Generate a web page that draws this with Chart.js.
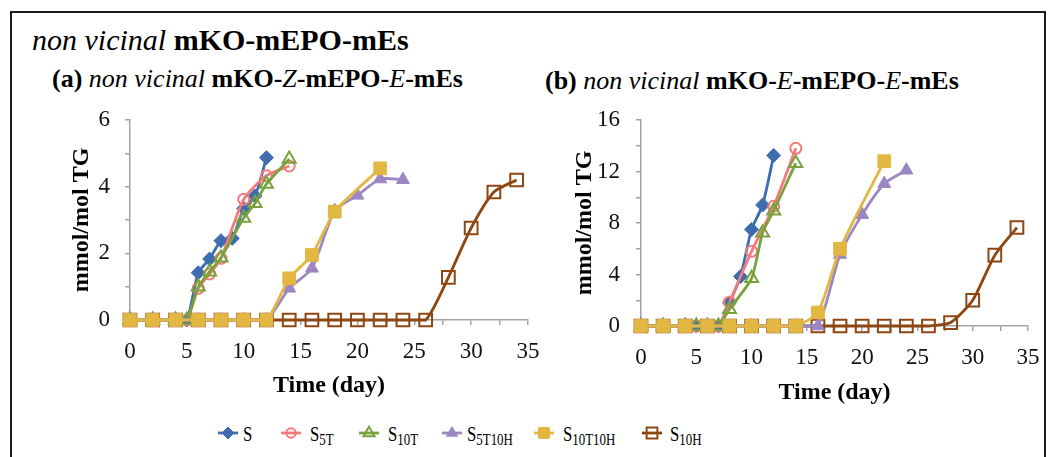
<!DOCTYPE html>
<html>
<head>
<meta charset="utf-8">
<script src="https://cdn.jsdelivr.net/npm/chart.js@4.4.1/dist/chart.umd.min.js"></script>
<style>
  html, body { margin: 0; padding: 0; }
  body { width: 1048px; height: 457px; background: #fff; position: relative; overflow: hidden;
         font-family: "Liberation Serif", "DejaVu Serif", serif; color: #000; }
  #frame { position: absolute; left: 10px; top: 11px; width: 1036px; height: 470px;
           border: 2px solid #1c1c1c; box-sizing: border-box; }
  .txt { position: absolute; white-space: nowrap; line-height: 1; }
  .it { font-style: italic; font-weight: normal; }
  .bd { font-weight: bold; }
  #mainTitle { left: 32px; top: 25px; font-size: 30px; }
  #subA { left: 52px; top: 66px; font-size: 26px; }
  #subB { left: 545px; top: 68px; font-size: 26px; }
  .chartBox { position: absolute; }
  #boxA { left: 40px; top: 100px; width: 500px; height: 310px; }
  #boxB { left: 550px; top: 100px; width: 490px; height: 310px; }
  .leg { position: absolute; top: 423px; font-size: 22px; line-height: 1; white-space: nowrap;
         transform: scaleX(0.76); transform-origin: 0 0; }
  .leg .sub { font-size: 17px; position: relative; top: 4px; }
  .legSym { position: absolute; top: 424px; }
</style>
</head>
<body>
<div id="frame"></div>
<div class="txt" id="mainTitle"><span class="it">non vicinal</span> <span class="bd">mKO-mEPO-mEs</span></div>
<div class="txt" id="subA"><span class="bd">(a)</span> <span class="it">non vicinal</span> <span class="bd">mKO-</span><span class="it">Z</span><span class="bd">-mEPO-</span><span class="it">E</span><span class="bd">-mEs</span></div>
<div class="txt" id="subB"><span class="bd">(b)</span> <span class="it">non vicinal</span> <span class="bd">mKO-</span><span class="it">E</span><span class="bd">-mEPO-</span><span class="it">E</span><span class="bd">-mEs</span></div>

<div class="chartBox" id="boxA"><canvas id="chartA" width="500" height="310"></canvas></div>
<div class="chartBox" id="boxB"><canvas id="chartB" width="490" height="310"></canvas></div>
<div id="legend"></div>

<script>
// ---- Panel (a): non vicinal mKO-Z-mEPO-E-mEs ----
const aDaysS       = [0, 2, 4, 5, 6, 7, 8, 9, 10, 11, 12];
const aValsS       = [0, 0, 0, 0, 1.42, 1.83, 2.38, 2.45, 3.35, 3.72, 4.87];
const aDaysS5T     = [0, 2, 4, 5, 6, 7, 8, 10, 12, 14];
const aValsS5T     = [0, 0, 0, 0, 0.95, 1.38, 1.85, 3.62, 4.33, 4.62];
const aDaysS10T    = [0, 2, 4, 5, 6, 7, 8, 10, 11, 12, 14];
const aValsS10T    = [0, 0, 0, 0, 1.0, 1.45, 1.87, 3.06, 3.5, 4.08, 4.83];
const aDaysS5T10H  = [0, 2, 4, 6, 8, 10, 12, 14, 16, 18, 20, 22, 24];
const aValsS5T10H  = [0, 0, 0, 0, 0, 0, 0, 0.95, 1.55, 3.28, 3.74, 4.23, 4.21];
const aDaysS10T10H = [0, 2, 4, 6, 8, 10, 12, 14, 16, 18, 22];
const aValsS10T10H = [0, 0, 0, 0, 0, 0, 0, 1.25, 1.95, 3.25, 4.55];
const aDaysS10H    = [0, 2, 4, 6, 8, 10, 12, 14, 16, 18, 20, 22, 24, 26, 28, 30, 32, 34];
const aValsS10H    = [0, 0, 0, 0, 0, 0, 0, 0, 0, 0, 0, 0, 0, 0, 1.28, 2.76, 3.84, 4.2];

// ---- Panel (b): non vicinal mKO-E-mEPO-E-mEs ----
const bDaysS       = [0, 2, 4, 5, 6, 7, 8, 9, 10, 11, 12];
const bValsS       = [0, 0, 0, 0, 0, 0, 1.8, 3.85, 7.5, 9.4, 13.25];
const bDaysS5T     = [0, 2, 4, 5, 6, 7, 8, 10, 12, 14];
const bValsS5T     = [0, 0, 0, 0, 0, 0, 1.85, 5.8, 9.3, 13.8];
const bDaysS10T    = [0, 2, 4, 5, 6, 7, 8, 10, 11, 12, 14];
const bValsS10T    = [0, 0, 0, 0, 0, 0, 1.3, 3.7, 7.25, 8.95, 12.65];
const bDaysS5T10H  = [0, 2, 4, 6, 8, 10, 12, 14, 16, 18, 20, 22, 24];
const bValsS5T10H  = [0, 0, 0, 0, 0, 0, 0, 0, 0, 5.55, 8.65, 11.05, 12.1];
const bDaysS10T10H = [0, 2, 4, 6, 8, 10, 12, 14, 16, 18, 22];
const bValsS10T10H = [0, 0, 0, 0, 0, 0, 0, 0, 1.05, 6.0, 12.8];
const bDaysS10H    = [0, 2, 4, 6, 8, 10, 12, 14, 16, 18, 20, 22, 24, 26, 28, 30, 32, 34];
const bValsS10H    = [0, 0, 0, 0, 0, 0, 0, 0, 0, 0, 0, 0, 0, 0, 0.27, 2.0, 5.5, 7.65];

// Axis ticks
const xTickLabels = ['0', '5', '10', '15', '20', '25', '30', '35'];
const aYTickLabels = ['0', '2', '4', '6'];
const bYTickLabels = ['0', '4', '8', '12', '16'];

// Series labels (legend)
const seriesNames = ['S', 'S5T', 'S10T', 'S5T10H', 'S10T10H', 'S10H'];

// Series appearance, same order as seriesNames
const styles = [
  { color: '#3E6DAF', point: 'rectRot',  radius: 7,   fill: true,  order: 4 },
  { color: '#F47A7C', point: 'circle',   radius: 5.5, fill: false, order: 3 },
  { color: '#7AA23C', point: 'triangle', radius: 7.5, fill: false, order: 2 },
  { color: '#9C87C2', point: 'triangle', radius: 7.5, fill: true,  order: 1 },
  { color: '#E2B842', point: 'rect',     radius: 9,   fill: true,  order: 0 },
  { color: '#8E4612', point: 'rect',     radius: 9,   fill: false, order: 5 }
];

function toPoints(days, vals) {
  return days.map((d, i) => ({ x: d, y: vals[i] }));
}

function buildDatasets(series) {
  return series.map((s, i) => {
    const st = styles[i];
    return {
      label: seriesNames[i],
      data: toPoints(s[0], s[1]),
      borderColor: st.color,
      backgroundColor: st.color,
      borderWidth: 2.8,
      tension: 0.22,
      pointStyle: st.point,
      pointRadius: st.radius,
      pointBackgroundColor: st.fill ? st.color : 'rgba(0,0,0,0)',
      pointBorderColor: st.color,
      pointBorderWidth: st.fill ? 1 : 2,
      order: st.order,
      clip: false
    };
  });
}

const axisGray = '#A3A3A3';
const tickFont = { family: '"Liberation Serif", serif', size: 23 };
const titleFont = { family: '"Liberation Serif", serif', size: 24, weight: 'bold' };

function makeChart(canvasId, datasets, cfg) {
  return new Chart(document.getElementById(canvasId), {
    type: 'line',
    data: { datasets },
    options: {
      responsive: false,
      animation: false,
      events: [],
      layout: { padding: { left: 10, right: cfg.padRight, top: cfg.padTop, bottom: 0 } },
      plugins: { legend: { display: false }, tooltip: { enabled: false } },
      scales: {
        x: {
          type: 'linear', min: 0, max: 35,
          // fixed axis band; the plot area edges come from layout padding alone
          afterFit: s => { s.height = cfg.xHeight; s.paddingLeft = 0; s.paddingRight = 0; },
          border: { display: true, color: axisGray, width: 1.5 },
          grid: { display: true, drawOnChartArea: false, drawTicks: true, tickLength: 5, color: axisGray, lineWidth: 1.5 },
          ticks: {
            stepSize: 2.5, autoSkip: false, maxRotation: 0, padding: cfg.xTickPad,
            color: '#111', font: tickFont,
            callback: v => { const t = String(v); return xTickLabels.includes(t) ? t : ''; }
          },
          title: { display: true, text: 'Time (day)', color: '#000', font: titleFont,
                   padding: { top: 0, bottom: cfg.xTitlePad } }
        },
        y: {
          type: 'linear', min: 0, max: cfg.yMax,
          afterFit: s => { s.width = cfg.yWidth; s.paddingTop = 0; s.paddingBottom = 0; },
          border: { display: true, color: axisGray, width: 1.5 },
          grid: { display: true, drawOnChartArea: false, drawTicks: true, tickLength: 5, color: axisGray, lineWidth: 1.5 },
          ticks: {
            stepSize: cfg.yStep, autoSkip: false, padding: cfg.yTickPad,
            color: '#111', font: tickFont,
            callback: v => { const t = String(v); return cfg.yLabels.includes(t) ? t : ''; }
          },
          title: { display: true, text: 'mmol/mol TG', color: '#000', font: titleFont,
                   padding: { top: cfg.yTitlePad, bottom: 0 } }
        }
      }
    }
  });
}

makeChart('chartA', buildDatasets([
  [aDaysS, aValsS], [aDaysS5T, aValsS5T], [aDaysS10T, aValsS10T],
  [aDaysS5T10H, aValsS5T10H], [aDaysS10T10H, aValsS10T10H], [aDaysS10H, aValsS10H]
]), { yMax: 6, yStep: 1, yLabels: aYTickLabels, padRight: 12, padTop: 20, xHeight: 90, yWidth: 80,
      xTickPad: 13, yTickPad: 15, xTitlePad: 10, yTitlePad: 17 });

makeChart('chartB', buildDatasets([
  [bDaysS, bValsS], [bDaysS5T, bValsS5T], [bDaysS10T, bValsS10T],
  [bDaysS5T10H, bValsS5T10H], [bDaysS10T10H, bValsS10T10H], [bDaysS10H, bValsS10H]
]), { yMax: 16, yStep: 2, yLabels: bYTickLabels, padRight: 12, padTop: 20, xHeight: 84, yWidth: 81,
      xTickPad: 13, yTickPad: 16, xTitlePad: 3, yTitlePad: 10 });

// ---- Legend: line sample with marker, then the series name with subscript ----
const legendSymX = [228, 291, 369, 452, 544, 652];
const legendTxtX = [243, 310, 388, 467, 563, 670];

function drawMarker(ctx, st, x, y) {
  ctx.beginPath();
  const r = st.radius * 0.85;
  if (st.point === 'rectRot') {
    ctx.moveTo(x, y - r); ctx.lineTo(x + r, y); ctx.lineTo(x, y + r); ctx.lineTo(x - r, y); ctx.closePath();
  } else if (st.point === 'circle') {
    ctx.arc(x, y, r, 0, Math.PI * 2);
  } else if (st.point === 'triangle') {
    ctx.moveTo(x, y - r);
    ctx.lineTo(x + Math.sin(2 * Math.PI / 3) * r, y + r / 2);
    ctx.lineTo(x - Math.sin(2 * Math.PI / 3) * r, y + r / 2);
    ctx.closePath();
  } else {
    const h = r * Math.SQRT1_2;
    ctx.rect(x - h, y - h, 2 * h, 2 * h);
  }
  if (st.fill) { ctx.fillStyle = st.color; ctx.fill(); }
  ctx.strokeStyle = st.color; ctx.lineWidth = st.fill ? 1 : 2; ctx.stroke();
}

const legend = document.getElementById('legend');
seriesNames.forEach((name, i) => {
  const st = styles[i];
  const c = document.createElement('canvas');
  c.width = 26; c.height = 20;
  c.className = 'legSym';
  c.style.left = (legendSymX[i] - 13) + 'px';
  legend.appendChild(c);
  const ctx = c.getContext('2d');
  ctx.strokeStyle = st.color; ctx.lineWidth = 2.8;
  ctx.beginPath(); ctx.moveTo(3, 9); ctx.lineTo(23, 9); ctx.stroke();
  drawMarker(ctx, st, 13, 9);

  const t = document.createElement('div');
  t.className = 'leg';
  t.style.left = legendTxtX[i] + 'px';
  t.appendChild(document.createTextNode(name.charAt(0)));
  if (name.length > 1) {
    const s = document.createElement('span');
    s.className = 'sub';
    s.textContent = name.slice(1);
    t.appendChild(s);
  }
  legend.appendChild(t);
});
</script>
</body>
</html>
